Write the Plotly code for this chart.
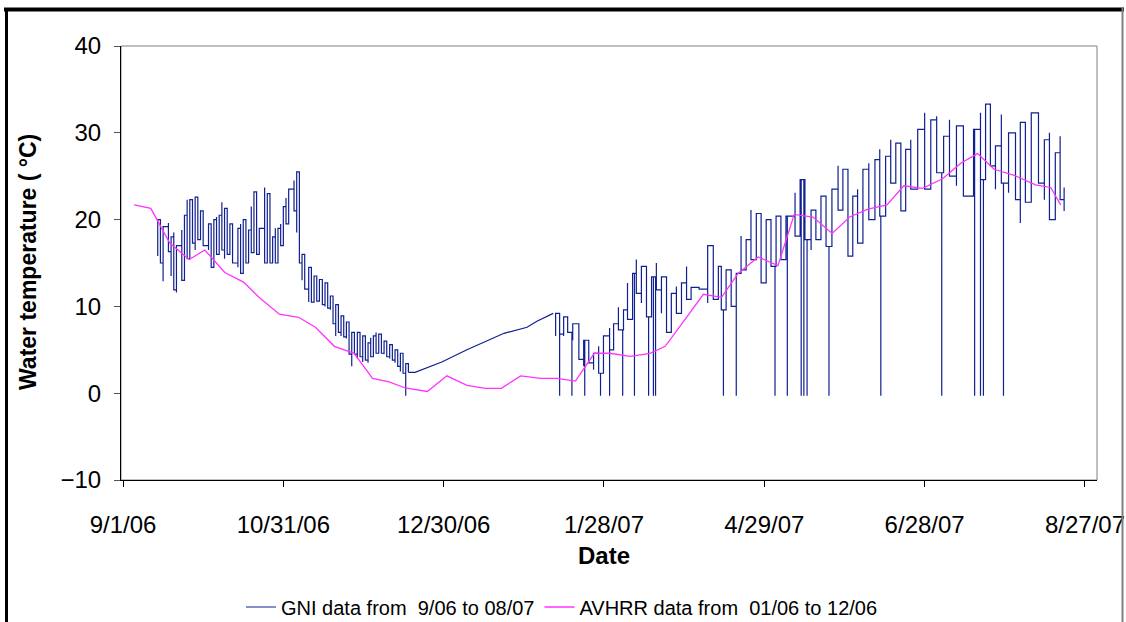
import pandas as pd
import plotly.graph_objects as go

BASE = pd.Timestamp("2006-09-01")

# ---------------- GNI data: per-day low / high readings (days since 9/1/06) -------------
# autumn 2006 segment
gni1_day = [13, 14, 15, 17, 18, 19, 20, 22, 23, 24, 25, 26, 27, 28, 29, 30, 32, 33, 34, 35,
            36, 37, 38, 39, 40, 41, 43, 44, 45, 46, 47, 48, 49, 50, 51, 53, 54, 55, 56, 57,
            58, 59, 60, 61, 62, 64, 65, 66, 67, 68,
            69.5, 70.5, 71.5, 72.5, 73.5, 74.6, 75.6, 76.6, 77.6, 78.6, 79.6, 80.6, 81.6,
            82.6, 83.6, 84.6, 85.6, 86.6, 87.7, 88.7, 89.7, 90.7, 91.7, 92.7, 93.7, 94.7,
            95.7, 96.7, 97.7, 98.7, 99.8, 100.8, 101.8, 102.8, 103.8, 104.8, 105.8, 106.8]
gni1_lo = [15.8, 15.0, 12.9, 16.3, 13.5, 11.9, 11.6, 13.0, 14.6, 15.5, 16.0, 17.3, 16.5, 17.7,
           18.0, 17.0, 16.5, 14.5, 15.0, 16.0, 16.2, 16.5, 15.5, 16.0, 16.5, 15.0, 14.5, 13.8,
           14.0, 15.0, 15.5, 16.2, 17.2, 16.0, 16.5, 15.0, 15.0, 15.0, 15.5, 15.0, 16.0, 17.0,
           18.0, 19.5, 20.5, 21.0, 18.5, 15.0, 13.0, 12.0,
           10.5, 10.5, 10.8, 10.6, 10.6, 10.2, 10.0, 9.8, 9.6, 8.0, 6.6, 7.0, 6.6, 6.5, 6.3,
           4.5, 3.1, 4.5, 4.0, 4.2, 3.6, 3.8, 3.5, 4.2, 4.5, 4.6, 4.8, 4.6, 4.5, 4.2, 4.0,
           3.8, 3.5, 3.1, 2.5, 2.3, 2.3, 2.4]
gni1_hi = [20.0, 19.0, 19.2, 19.6, 18.0, 18.5, 17.0, 18.8, 20.5, 22.3, 22.3, 21.7, 22.6, 22.6,
           21.0, 20.0, 19.5, 19.5, 20.0, 20.3, 20.5, 22.0, 21.3, 20.0, 19.5, 19.0, 19.0, 19.5,
           20.0, 18.0, 18.8, 21.5, 23.2, 22.0, 19.0, 23.7, 23.0, 20.0, 18.0, 19.0, 19.0, 19.5,
           21.5, 22.5, 23.5, 24.5, 25.5, 21.0, 16.0, 14.5,
           14.5, 14.2, 13.5, 12.8, 13.1, 12.5, 12.7, 11.8, 11.2, 10.5, 10.2, 9.5, 8.9, 8.5,
           8.2, 7.5, 7.0, 6.8, 7.0, 6.5, 6.6, 6.0, 5.8, 6.4, 6.6, 7.0, 6.8, 6.6, 6.0, 5.8,
           5.6, 5.5, 5.0, 4.6, 4.6, 4.6, 3.4, 2.8]

# readings across the Dec-Feb logger gap (line joins these)
gni_gap_day = [106.8, 109.3, 119.3, 128.7, 142.6, 151.2, 154.9, 161.0]
gni_gap_val = [2.4, 2.4, 3.6, 5.0, 6.9, 7.6, 8.3, 9.2]

# 2007 segment
gni2_day = [161.9, 163.4, 164.9, 166.4, 168.3, 170.6, 172.4, 174.3, 176.1, 178.0, 179.8, 182.1,
            183.6, 185.4, 187.3, 188.8, 190.7, 192.1, 194.0, 195.9, 197.8, 199.6, 201.5, 203.4,
            205.2, 207.1, 209.0, 210.9, 212.6, 215.6, 218.8, 220.9, 222.8, 223.9, 225.7, 227.6,
            229.5, 231.3, 233.2, 235.0, 237.0, 238.8, 240.7, 242.5, 244.4, 246.2, 248.1, 251.5,
            253.4, 255.2, 257.5, 259.3, 261.2, 263.1, 265.3, 267.6, 269.4, 271.3, 273.1,
            274.9, 276.9, 279.1, 281.4, 283.2, 285.4, 287.3, 289.2, 291.1, 292.9, 294.8, 297.4,
            300.0, 302.3, 304.5, 307.1, 309.3, 311.9, 314.5, 318.3, 320.9, 322.8, 324.6, 326.5,
            328.7, 331.4, 334.0, 335.8, 337.7, 339.9, 342.6, 344.8, 346.7, 348.9, 350.7, 352.2]
gni2_lo = [6.6, 6.8, 6.6, 7.0, 6.1, 3.9, 3.1, 3.5, 2.7, 2.3, 4.6, 5.0, 6.2, 7.3, 7.7, 8.5,
           11.0, 11.5, 10.4, 8.8, 9.2, 11.9, 9.2, 7.0, 8.5, 9.2, 10.0, 10.8, 12.2, 12.0,
           10.4, 10.8, 11.2, 9.6, 10.0, 10.0, 12.3, 14.2, 14.6, 15.4, 16.9, 12.7, 12.7, 14.6,
           15.0, 15.4, 15.4, 18.1, 20.4, 17.7, 16.5, 17.7, 18.1, 16.9, 19.6, 21.1, 22.7,
           15.8, 19.2, 17.3, 18.8, 20.0, 21.9, 20.4, 22.0, 24.2, 24.2, 21.0, 22.3, 23.5,
           24.2, 23.5, 25.4, 25.4, 26.5, 25.0, 23.9, 22.7, 25.8, 24.6, 24.6, 26.2, 23.5,
           24.2, 23.1, 22.3, 19.6, 22.0, 23.5, 24.2, 22.3, 20.0, 21.5, 22.3, 21.0]
gni2_hi = [9.2, 8.8, 8.8, 8.7, 8.0, 6.2, 6.1, 5.0, 4.6, 5.4, 6.6, 7.5, 8.0, 9.9, 9.6, 12.7,
           13.8, 15.4, 14.6, 12.3, 13.4, 15.0, 13.4, 10.8, 11.5, 12.3, 12.7, 14.6, 12.2, 12.2,
           17.0, 15.4, 14.6, 13.3, 14.2, 13.1, 13.8, 18.1, 17.7, 21.1, 20.7, 18.1, 20.0, 18.8,
           20.4, 20.0, 20.4, 23.1, 24.6, 24.2, 21.1, 21.1, 22.7, 21.9, 23.5, 26.2, 25.8,
           23.1, 22.7, 23.5, 25.8, 26.5, 26.9, 28.1, 27.3, 29.2, 28.8, 27.7, 28.1, 29.2,
           30.4, 32.3, 31.5, 31.9, 29.6, 31.5, 30.8, 30.8, 30.4, 32.3, 33.3, 31.2, 28.5,
           32.1, 30.0, 29.2, 31.2, 29.2, 32.3, 31.9, 29.2, 30.0, 27.7, 29.6, 23.7]

# days with zero/dropout readings
gni_drop_day = [105.8, 163.4, 168.0, 172.8, 178.7, 182.1, 187.0, 191.4, 196.7, 198.5, 199.3,
                224.7, 229.5, 244.0, 248.6, 253.8, 254.8, 256.0, 264.2, 283.6, 306.4,
                318.7, 320.9, 322.0, 329.5]
gni_drop_val = -0.3

# ---------------- AVHRR data -----------------
avhrr_day = [4.2, 10.4, 17.5, 24.8, 30.6, 38.1, 45.1, 51.1, 58.5, 65.7, 72.0, 79.1, 86.5,
             93.4, 99.6, 105.6, 113.9, 121.2, 128.7, 135.7, 141.6, 148.8, 156.3, 162.4,
             169.3, 176.4, 182.1, 189.8, 197.3, 202.9, 209.1, 217.2, 224.0, 230.2, 237.7,
             245.1, 251.2, 258.2, 265.4, 271.9, 278.8, 285.9, 292.2, 299.2, 306.7, 313.5,
             319.8, 326.0, 333.5, 341.5, 347.2, 350.9]
avhrr_val = [21.7, 21.3, 17.3, 15.4, 16.5, 13.9, 12.8, 11.0, 9.1, 8.75, 7.6, 5.4, 4.6,
             1.7, 1.3, 0.6, 0.2, 2.0, 0.9, 0.56, 0.56, 2.0, 1.7, 1.7,
             1.4, 4.6, 4.6, 4.25, 4.6, 5.4, 8.0, 11.4, 11.05, 13.8, 15.7,
             14.7, 20.6, 20.3, 18.4, 20.3, 21.2, 21.7, 23.9, 23.6, 24.7, 26.5,
             27.6, 25.8, 25.1, 24.0, 23.7, 21.7]

tick_days = [0, 60, 120, 180, 240, 300, 360]
tick_text = ["9/1/06", "10/31/06", "12/30/06", "1/28/07", "4/29/07", "6/28/07", "8/27/07"]


def build_path(days, lows, highs, drops):
    ev = [(d, 0, lo, hi) for d, lo, hi in zip(days, lows, highs)]
    ev += [(d, 1, gni_drop_val, gni_drop_val) for d in drops if days[0] <= d <= days[-1]]
    ev.sort(key=lambda e: (e[0], e[1]))
    xs, ys, flip, last = [], [], False, None
    for d, kind, a, b in ev:
        if kind == 0:
            seq = [a, b] if not flip else [b, a]
            flip = not flip
            xs += [d, d]; ys += seq
            last = seq[-1]
        else:
            xs += [d, d, d]; ys += [last, a, last]
    return xs, ys


to_date = lambda days: [BASE + pd.Timedelta(days=float(v)) for v in days]

x1, y1 = build_path(gni1_day, gni1_lo, gni1_hi, gni_drop_day)
x2, y2 = build_path(gni2_day, gni2_lo, gni2_hi, gni_drop_day)

GNI_COL = "#102090"
GNI_NAME = "GNI data from\u00a0\u00a09/06 to 08/07"

fig = go.Figure()
fig.add_trace(go.Scatter(x=to_date(x1), y=y1, mode="lines", legendgroup="gni",
                         line=dict(color=GNI_COL, width=1.2, shape="hv"), name=GNI_NAME))
fig.add_trace(go.Scatter(x=to_date(gni_gap_day), y=gni_gap_val, mode="lines", legendgroup="gni",
                         line=dict(color=GNI_COL, width=1.2), showlegend=False, name=GNI_NAME))
fig.add_trace(go.Scatter(x=to_date(x2), y=y2, mode="lines", legendgroup="gni",
                         line=dict(color=GNI_COL, width=1.2, shape="hv"), showlegend=False,
                         name=GNI_NAME))
fig.add_trace(go.Scatter(
    x=to_date(avhrr_day), y=avhrr_val, mode="lines",
    line=dict(color="#ff33ff", width=1.3),
    name="AVHRR data from\u00a0\u00a001/06 to 12/06"))

W, H = 1126, 622
L, R, T, B = 121, 1097, 46, 480
FONT = "Liberation Sans, Arial, sans-serif"


def px(xp):
    return (xp - L) / (R - L)


def py(yp):
    return (B - yp) / (B - T)


fig.update_layout(
    width=W, height=H,
    margin=dict(l=L, r=W - R, t=T, b=H - B, pad=0, autoexpand=False),
    paper_bgcolor="white", plot_bgcolor="white",
    font=dict(family=FONT, color="black"),
    showlegend=True,
    legend=dict(orientation="h", x=px(562), xanchor="center", y=py(607), yanchor="middle",
                font=dict(size=20, family=FONT), bgcolor="rgba(0,0,0,0)",
                tracegroupgap=0, traceorder="normal"),
    xaxis=dict(
        range=[BASE - pd.Timedelta(days=0.75), BASE + pd.Timedelta(days=364.5)],
        tickvals=to_date(tick_days), ticktext=tick_text,
        showgrid=False, zeroline=False, showline=True, linecolor="black", linewidth=1,
        ticks="outside", ticklen=6, tickcolor="black", ticklabeloverflow="allow",
        tickfont=dict(size=24, family=FONT), ticklabelstandoff=17),
    yaxis=dict(
        range=[-10, 40], tickvals=[-10, 0, 10, 20, 30, 40],
        showgrid=False, zeroline=False, showline=True, linecolor="black", linewidth=1,
        ticks="outside", ticklen=6, tickcolor="#555",
        tickfont=dict(size=24, family=FONT), ticklabelstandoff=8),
    shapes=[
        dict(type="rect", xref="paper", yref="paper", x0=0, x1=1, y0=0, y1=1,
             line=dict(color="#808080", width=1), layer="below"),
        # outer frame
        dict(type="line", xref="paper", yref="paper", x0=px(4), x1=px(1124), y0=py(9.5), y1=py(9.5),
             line=dict(color="black", width=4)),
        dict(type="line", xref="paper", yref="paper", x0=px(6.5), x1=px(6.5), y0=py(8), y1=py(630),
             line=dict(color="black", width=3)),
        dict(type="line", xref="paper", yref="paper", x0=px(1122.5), x1=px(1122.5), y0=py(8), y1=py(630),
             line=dict(color="#808080", width=2)),
    ],
    annotations=[
        dict(text="<b>Date</b>", xref="paper", yref="paper", x=px(604), y=py(555),
             showarrow=False, font=dict(size=24, family=FONT), xanchor="center", yanchor="middle"),
        dict(text="<b>Water temperature (\u00a0°C)</b>", xref="paper", yref="paper",
             x=px(28), y=py(262), textangle=-90, showarrow=False,
             font=dict(size=23, family=FONT), xanchor="center", yanchor="middle"),
    ],
)

fig.write_html("out.html", config={"displayModeBar": False},
               post_script="document.body.style.margin='0px';")
